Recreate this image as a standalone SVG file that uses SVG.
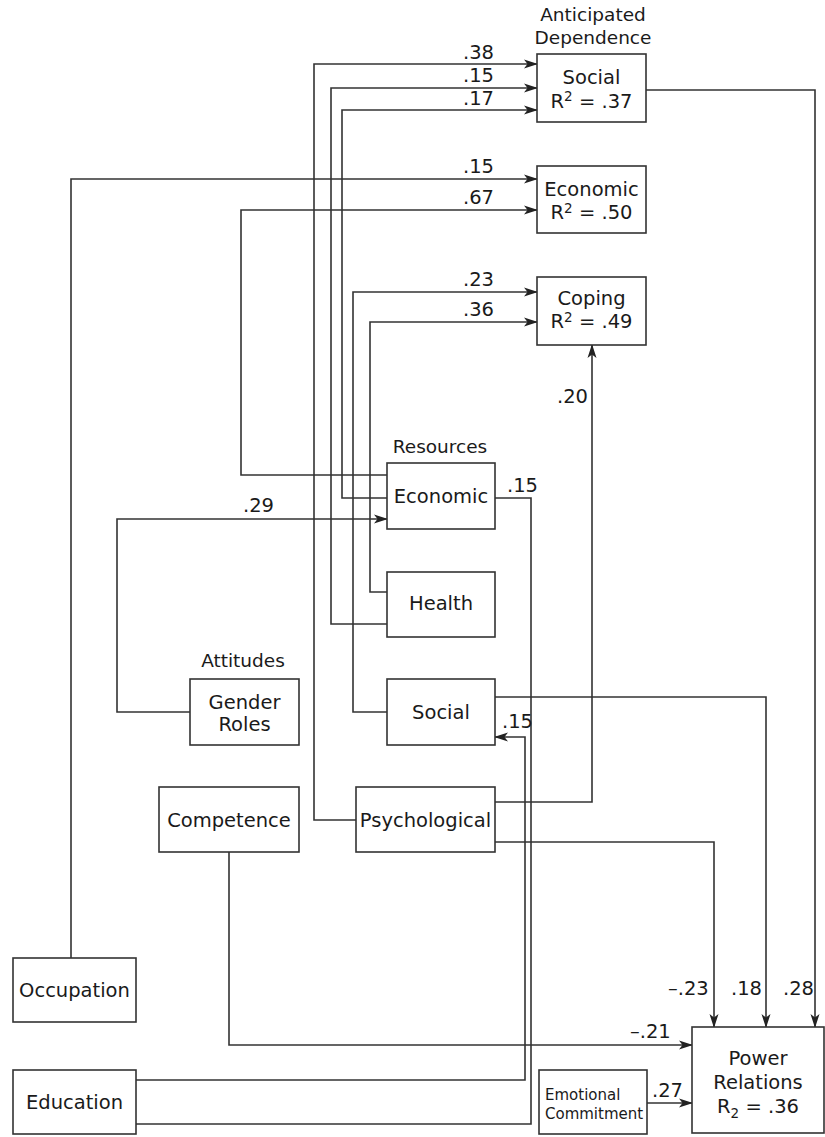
<svg xmlns="http://www.w3.org/2000/svg" width="825" height="1137" viewBox="0 0 825 1137">
<style>
text{font-family:"DejaVu Sans","Liberation Sans",sans-serif;font-size:19.5px;fill:#1a1a1a}
.c{text-anchor:middle}
.h{font-size:18.5px}
.s{font-size:15px}
.sup{font-size:13.5px}
rect{fill:#fff;stroke:#333;stroke-width:1.6}
.e path{fill:none;stroke:#333;stroke-width:1.6}
.a{marker-end:url(#ah)}
</style>
<defs>
<marker id="ah" markerWidth="14" markerHeight="10" refX="13" refY="5" orient="auto" markerUnits="userSpaceOnUse">
<path d="M0,0.5 L14,5 L0,9.5 L3.5,5 z" fill="#222"/>
</marker>
</defs>
<rect x="0" y="0" width="825" height="1137" style="fill:#fff;stroke:none"/>
<g id="connectors" class="e">
<path class="a" d="M356,820 H314 V64 H537"/>
<path class="a" d="M387,624 H331 V88 H537"/>
<path class="a" d="M387,498 H342 V110 H537"/>
<path class="a" d="M71,958 V179 H537"/>
<path class="a" d="M387,475 H241 V210 H537"/>
<path class="a" d="M387,712 H353 V292 H537"/>
<path class="a" d="M387,592 H370 V322 H537"/>
<path class="a" d="M190,712 H117 V519 H387"/>
<path class="a" d="M495,802 H592 V345"/>
<path d="M495,498 H531 V1124 H136"/>
<path class="a" d="M136,1080 H525 V737 H495"/>
<path class="a" d="M229,852 V1045 H692"/>
<path class="a" d="M495,842 H714 V1027"/>
<path class="a" d="M495,697 H766 V1027"/>
<path class="a" d="M646,90 H815 V1027"/>
<path class="a" d="M647,1103 H692"/>
</g>
<g id="labels">
<text x="463" y="59">.38</text>
<text x="463" y="82">.15</text>
<text x="463" y="105">.17</text>
<text x="463" y="173">.15</text>
<text x="463" y="204">.67</text>
<text x="463" y="286">.23</text>
<text x="463" y="316">.36</text>
<text x="243" y="512">.29</text>
<text x="557" y="403">.20</text>
<text x="507" y="492">.15</text>
<text x="502" y="728">.15</text>
<text x="630" y="1038">–.21</text>
<text x="668" y="995">–.23</text>
<text x="731" y="995">.18</text>
<text x="783" y="995">.28</text>
<text x="652" y="1097">.27</text>
<text class="c h" x="593" y="21">Anticipated</text>
<text class="c h" x="593" y="44">Dependence</text>
<text class="c h" x="440" y="453">Resources</text>
<text class="c h" x="243" y="667">Attitudes</text>
</g>
<g id="ad-social"><rect x="537" y="54" width="109" height="68"/><text class="c" x="591.5" y="84">Social</text><text class="c" x="591.5" y="107.5">R<tspan class="sup" dy="-6.5">2</tspan><tspan dy="6.5"> = .37</tspan></text></g>
<g id="ad-economic"><rect x="537" y="166" width="109" height="67"/><text class="c" x="591.5" y="196">Economic</text><text class="c" x="591.5" y="219">R<tspan class="sup" dy="-6.5">2</tspan><tspan dy="6.5"> = .50</tspan></text></g>
<g id="ad-coping"><rect x="537" y="277" width="109" height="68"/><text class="c" x="591.5" y="305">Coping</text><text class="c" x="591.5" y="328">R<tspan class="sup" dy="-6.5">2</tspan><tspan dy="6.5"> = .49</tspan></text></g>
<g id="res-economic"><rect x="387" y="463" width="108" height="66"/><text class="c" x="441" y="503">Economic</text></g>
<g id="res-health"><rect x="387" y="572" width="108" height="65"/><text class="c" x="441" y="610">Health</text></g>
<g id="res-social"><rect x="387" y="679" width="108" height="66"/><text class="c" x="441" y="719">Social</text></g>
<g id="res-psychological"><rect x="356" y="787" width="139" height="65"/><text class="c" x="425.5" y="827">Psychological</text></g>
<g id="gender-roles"><rect x="190" y="679" width="109" height="66"/><text class="c" x="244.5" y="709">Gender</text><text class="c" x="244.5" y="731">Roles</text></g>
<g id="competence"><rect x="159" y="787" width="140" height="65"/><text class="c" x="229" y="827">Competence</text></g>
<g id="occupation"><rect x="13" y="958" width="123" height="64"/><text class="c" x="74.5" y="997">Occupation</text></g>
<g id="education"><rect x="13" y="1070" width="123" height="64"/><text class="c" x="74.5" y="1109">Education</text></g>
<g id="emotional-commitment"><rect x="539" y="1070" width="108" height="64"/><text class="s" x="545" y="1100">Emotional</text><text class="s" x="545" y="1119">Commitment</text></g>
<g id="power-relations"><rect x="692" y="1027" width="132" height="106"/><text class="c" x="758" y="1065">Power</text><text class="c" x="758" y="1089">Relations</text><text class="c" x="758" y="1113">R<tspan class="sup" dy="5">2</tspan><tspan dy="-5"> = .36</tspan></text></g>
</svg>
